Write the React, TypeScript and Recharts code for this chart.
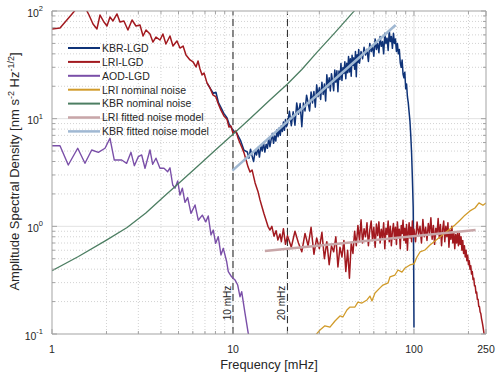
import { LineChart, Line, XAxis, YAxis, CartesianGrid, ReferenceLine } from 'recharts';

// [frequency (mHz), amplitude spectral density (nm s^-2 Hz^-1/2)]
const KBR_LGD: [number, number][] = [
  [7.2, 21.4], [7.5, 19.0], [7.8, 17.2], [8.05, 17.6], [8.3, 14.2], [8.6, 12.6], [8.9, 11.2],
  [9.26, 10.2], [9.5, 9.0], [9.74, 8.4], [10, 7.8], [10.5, 7.3], [11, 6.3], [11.5, 5.1],
  [12, 4.9], [12.25, 4.3], [12.5, 5.2], [12.75, 4.5], [13, 4.0], [13.25, 5.0], [13.5, 4.6],
  [13.75, 5.4], [14, 4.4], [14.25, 5.6], [14.5, 5.0], [14.75, 6.0], [15, 4.9], [15.25, 5.8],
  [15.5, 5.3], [15.75, 6.6], [16, 5.5], [16.25, 6.4], [16.5, 7.3], [16.75, 5.9], [17, 6.9],
  [17.25, 6.2], [17.5, 7.9], [17.75, 6.8], [18, 8.2], [18.25, 7.0], [18.5, 8.6], [18.75, 7.6],
  [19, 9.3], [19.25, 7.8], [19.5, 9.8], [19.75, 8.4], [20, 8.9], [20.5, 11.7], [21, 8.6],
  [21.5, 11.6], [22, 8.7], [22.5, 14.0], [23, 11.0], [23.5, 13.8], [24, 8.4], [24.5, 14.0],
  [25, 11.8], [25.5, 16.5], [26, 14.0], [26.5, 11.8], [27, 17.7], [27.5, 14.0], [28, 17.9],
  [28.5, 12.8], [29, 20.6], [29.5, 16.0], [30, 19.4], [30.5, 15.1], [31, 21.8], [31.5, 16.8],
  [32, 21.0], [32.5, 14.6], [33, 25.6], [33.5, 19.4], [34, 24.0], [34.5, 18.1], [35, 26.2],
  [35.5, 22.3], [36, 18.2], [36.5, 28.3], [37, 21.8], [37.5, 27.8], [38, 17.8], [38.5, 27.7],
  [39, 23.1], [39.5, 32.6], [40, 22.6], [40.5, 29.8], [41, 26.3], [41.5, 33.8], [42, 23.5],
  [42.5, 32.7], [43, 26.7], [43.5, 37.8], [44, 27.1], [44.5, 36.0], [45, 24.8], [45.5, 38.8],
  [46, 31.2], [46.5, 36.7], [47, 28.8], [47.5, 42.1], [48, 24.5], [48.5, 39.2], [49, 33.2],
  [49.5, 44.0], [50, 32.7], [51, 42], [52, 36], [53, 46], [54, 39], [55, 44], [56, 34],
  [57, 50], [58, 42], [59, 47], [60, 38], [61, 55], [62, 44], [63, 50], [64, 41], [65, 58],
  [66, 47], [67, 52], [68, 40], [69, 62], [70, 50], [71, 56], [72, 43], [73, 66], [74, 52],
  [75, 58], [76, 45], [77, 62], [78, 50], [79, 55], [80, 42], [81, 50], [82, 40], [83, 44],
  [84, 33], [85, 30], [86, 35], [87, 26], [88, 24], [89, 27], [90, 19], [91, 21], [92, 16],
  [93, 14], [94, 11.5], [95, 9.5], [96, 7.0], [97, 4.8], [98, 2.8], [99, 1.5], [99.5, 0.6],
  [100, 0.115],
];

const LRI_LGD: [number, number][] = [
  [1, 68.1], [1.107, 69.5], [1.195, 80.8], [1.29, 93.8], [1.374, 106.6], [1.465, 113.7],
  [1.541, 104], [1.601, 91.8], [1.685, 75.8], [1.772, 68.1], [1.842, 91.8], [1.937, 79.0],
  [2.013, 72.6], [2.091, 88.0], [2.173, 80.8], [2.286, 93.8], [2.375, 79.0], [2.497, 80.8],
  [2.627, 66.6], [2.769, 82.5], [2.91, 72.6], [3.063, 74.1], [3.185, 58.6], [3.307, 66.6],
  [3.478, 61.1], [3.61, 51.5], [3.754, 57.3], [3.95, 53.8], [4.1, 61.1], [4.26, 49.4],
  [4.486, 58.6], [4.66, 47.3], [4.9, 52.7], [5.094, 45.3], [5.3, 47.3], [5.5, 39.0],
  [5.787, 35.1], [6.02, 33.6], [6.25, 30.2], [6.41, 34.3], [6.572, 28.9], [6.75, 25.5],
  [6.92, 26.6], [7.19, 21.4], [7.464, 19.3], [7.75, 16.6], [8.05, 15.9], [8.26, 14.0],
  [8.58, 12.0], [8.91, 10.6], [9.26, 9.9], [9.5, 8.37], [9.74, 8.55], [10, 7.36],
  [10.4, 7.7], [10.66, 6.62], [10.93, 5.94], [11.22, 5.36], [11.51, 4.81], [11.81, 4.13],
  [12.12, 3.55], [12.42, 3.19], [12.75, 3.34], [13.25, 2.53], [13.77, 2.08], [14.1, 1.76],
  [14.47, 1.51], [14.85, 1.30], [15.23, 1.14], [15.6, 1.0], [16.01, 0.924], [16.4, 1.0],
  [16.85, 0.81], [17.3, 0.91], [17.7, 0.746], [18.18, 0.85], [18.5, 0.72], [19, 0.95],
  [19.5, 0.68], [20, 0.82], [21, 0.64], [22, 0.90], [23, 0.70], [24, 0.58], [25, 0.86],
  [26, 0.66], [27, 0.98], [28, 0.55], [29, 0.78], [30, 0.62], [31, 0.88], [32, 0.50],
  [33, 0.72], [34, 0.44], [35, 0.66], [36, 0.58], [37, 0.80], [38, 0.42], [39, 0.64],
  [40, 0.52], [41, 0.74], [42, 0.38], [43, 0.60], [44, 0.33], [45, 0.70], [46, 0.56],
  [47, 0.90], [48, 0.66], [49, 1.02], [50, 0.74], [51, 1.15], [52, 0.70], [53, 0.95],
  [54, 0.80], [55, 1.08], [56, 0.66], [57, 0.92], [58, 1.12], [59, 0.74], [60, 0.98],
  [61, 0.64], [62, 1.05], [63, 0.82], [64, 1.10], [65, 0.70], [66, 0.94], [67, 0.78],
  [68, 1.08], [69, 0.62], [70, 0.96], [71, 0.84], [72, 1.12], [73, 0.72], [74, 1.00],
  [75, 0.66], [76, 0.90], [77, 1.06], [78, 0.76], [79, 0.98], [80, 0.68], [81, 1.10],
  [82, 0.80], [83, 0.94], [84, 0.62], [85, 1.02], [86, 0.86], [87, 1.14], [88, 0.74],
  [89, 0.96], [90, 0.70], [91, 1.04], [92, 0.60], [93, 0.88], [94, 1.08], [95, 0.78],
  [96, 0.98], [97, 0.72], [98, 1.12], [99, 0.82], [100, 0.94], [102, 0.72], [104, 1.10],
  [106, 0.84], [108, 1.00], [110, 0.70], [112, 1.16], [114, 0.80], [116, 0.98], [118, 0.74],
  [120, 1.06], [122, 0.86], [124, 1.20], [126, 0.76], [128, 1.02], [130, 0.68], [132, 0.96],
  [134, 0.84], [136, 1.18], [138, 0.78], [140, 1.04], [142, 0.66], [144, 0.94], [146, 1.12],
  [148, 0.72], [150, 1.00], [152, 0.80], [154, 1.08], [156, 0.64], [158, 0.92], [160, 0.76],
  [162, 1.00], [164, 0.70], [166, 0.88], [168, 0.62], [170, 0.84], [172, 0.70], [174, 0.86],
  [176, 0.66], [178, 0.86], [180, 0.68], [182, 0.80], [184, 0.60], [186, 0.74], [188, 0.56],
  [190, 0.66], [192, 0.52], [194, 0.60], [196, 0.48], [198, 0.54], [200, 0.44], [202, 0.48],
  [204, 0.40], [206, 0.43], [208, 0.36], [210, 0.38], [212, 0.32], [214, 0.33], [216, 0.28],
  [218, 0.28], [220, 0.24], [222, 0.245], [224, 0.21], [226, 0.21], [228, 0.18], [230, 0.18],
  [232, 0.16], [234, 0.155], [236, 0.14], [238, 0.13], [240, 0.12], [242, 0.11], [244, 0.1],
  [246, 0.092], [248, 0.085],
];

const AOD_LGD: [number, number][] = [
  [1, 5.61], [1.107, 5.61], [1.23, 3.71], [1.387, 5.31], [1.521, 3.85], [1.657, 5.12],
  [1.803, 4.87], [1.963, 5.31], [2.091, 6.57], [2.209, 4.13], [2.427, 4.13], [2.586, 3.85],
  [2.732, 4.87], [2.85, 3.66], [3.0, 4.44], [3.13, 4.60], [3.265, 3.46], [3.478, 5.12],
  [3.6, 3.77], [3.754, 4.29], [3.95, 3.46], [4.157, 3.46], [4.357, 3.22], [4.486, 3.50],
  [4.645, 2.42], [4.78, 2.26], [4.95, 2.64], [5.094, 1.95], [5.25, 2.26], [5.43, 1.67],
  [5.62, 1.85], [5.86, 1.32], [6.17, 1.58], [6.43, 1.14], [6.77, 1.27], [7.07, 1.10],
  [7.30, 1.25], [7.56, 0.831], [7.78, 0.924], [8.02, 0.696], [8.29, 0.801], [8.58, 0.542],
  [8.84, 0.625], [9.23, 0.469], [9.42, 0.379], [9.83, 0.340], [10.26, 0.318], [10.62, 0.285],
  [10.93, 0.222], [11.17, 0.247], [11.65, 0.156], [12.15, 0.101], [12.42, 0.09],
];

const LRI_NOMINAL: [number, number][] = [
  [28.5, 0.097], [30.25, 0.109], [32.2, 0.119], [34.35, 0.116], [36.6, 0.132], [39.0, 0.147],
  [40.5, 0.144], [42.6, 0.167], [44.3, 0.178], [47.2, 0.178], [49.0, 0.198], [51.6, 0.194],
  [55.0, 0.207], [57.1, 0.225], [58.6, 0.203], [60.9, 0.240], [64.9, 0.268], [67.4, 0.285],
  [71.9, 0.298], [73.7, 0.339], [78.5, 0.353], [81.6, 0.393], [85.8, 0.376], [89.2, 0.410],
  [95.0, 0.438], [100, 0.448], [103.9, 0.519], [108, 0.578], [115, 0.603], [122.6, 0.672],
  [130.6, 0.731], [139.2, 0.796], [148.3, 0.867], [158.1, 0.945], [168.4, 1.03], [179.5, 1.14],
  [191.3, 1.27], [203.9, 1.39], [217.3, 1.48], [228.6, 1.65], [240.5, 1.57], [250, 1.65],
];

const KBR_NOMINAL: [number, number][] = [
  [1, 0.387], [1.4, 0.525], [2, 0.745], [2.6, 0.975], [3.3, 1.33], [4.2, 1.92], [5.2, 2.65],
  [6.4, 3.64], [8, 5.11], [10, 7.18], [12.4, 10.0], [16, 14.9], [20, 21.0], [24, 28.6],
  [29, 41.0], [36.6, 63], [46, 97], [52, 122],
];

const LRI_FIT: [number, number][] = [[15.0, 0.59], [219, 0.925]];
const KBR_FIT: [number, number][] = [[9.92, 3.29], [79.2, 74.1]];

const X_MAJOR = [1, 10, 100, 250];
const X_MINOR = [2, 3, 4, 5, 6, 7, 8, 9, 20, 30, 40, 50, 60, 70, 80, 90, 200];
const Y_MAJOR = [0.1, 1, 10, 100];
const Y_MINOR = [0.2, 0.3, 0.4, 0.5, 0.6, 0.7, 0.8, 0.9, 2, 3, 4, 5, 6, 7, 8, 9, 20, 30, 40, 50, 60, 70, 80, 90];
const Y_EXP: Record<string, string> = { '0.1': '-1', '1': '0', '10': '1', '100': '2' };
const MARKERS = [10, 20];

const FONT = '"Liberation Sans", Arial, Helvetica, sans-serif';
const AXIS = '#a3a3a3';
const TEXT = '#262626';

const SERIES = [
  { name: 'KBR-LGD', data: KBR_LGD, color: '#0f3378', width: 1.5, legendWidth: 2 },
  { name: 'LRI-LGD', data: LRI_LGD, color: '#a2191f', width: 1.5, legendWidth: 2 },
  { name: 'AOD-LGD', data: AOD_LGD, color: '#7a4fa8', width: 1.4, legendWidth: 2 },
  { name: 'LRI nominal noise', data: LRI_NOMINAL, color: '#d19b2a', width: 1.3, legendWidth: 2 },
  { name: 'KBR nominal noise', data: KBR_NOMINAL, color: '#4c7e62', width: 1.3, legendWidth: 2 },
  { name: 'LRI fitted noise model', data: LRI_FIT, color: '#c8a6a8', width: 2.6, legendWidth: 2.5 },
  { name: 'KBR fitted noise model', data: KBR_FIT, color: '#a0b8d2', width: 2.6, legendWidth: 2.5 },
];

const toRows = (d: [number, number][]) => d.map(([f, v]) => ({ f, v }));

function XTick(props: any) {
  const { x, y, payload, top } = props;
  const major = X_MAJOR.includes(payload.value);
  const len = major ? 5 : 3;
  const dir = top ? 1 : -1;
  return (
    <g>
      <line x1={x} x2={x} y1={y} y2={y + dir * len} stroke={AXIS} />
      {major && !top && (
        <text x={x} y={y + 19} textAnchor="middle" fontSize={10.5} fill={TEXT} fontFamily={FONT}>
          {payload.value}
        </text>
      )}
    </g>
  );
}

function YTick(props: any) {
  const { x, y, payload, right } = props;
  const major = Y_MAJOR.includes(payload.value);
  const len = major ? 5 : 3;
  const dir = right ? -1 : 1;
  return (
    <g>
      <line x1={x} x2={x + dir * len} y1={y} y2={y} stroke={AXIS} />
      {major && !right && (
        <text x={x - 9} y={y + 5.5} textAnchor="end" fontSize={10.5} fill={TEXT} fontFamily={FONT}>
          <tspan>10</tspan>
          <tspan dy={-5.5} fontSize={7.5}>{Y_EXP[String(payload.value)]}</tspan>
        </text>
      )}
    </g>
  );
}

function MarkerLabel(props: any) {
  const { viewBox, text } = props;
  const cx = viewBox.x - 2;
  const cy = viewBox.y + viewBox.height - 31;
  return (
    <text
      transform={`translate(${cx}, ${cy}) rotate(-90)`}
      textAnchor="middle"
      fontSize={10}
      fill={TEXT}
      fontFamily={FONT}
    >
      {text}
    </text>
  );
}

export default function App() {
  const xTicks = [...X_MAJOR, ...X_MINOR].sort((a, b) => a - b);
  const yTicks = [...Y_MAJOR, ...Y_MINOR].sort((a, b) => a - b);
  return (
    <div style={{ position: 'absolute', left: 0, top: 0, width: 500, height: 377, background: '#fff' }}>
      <LineChart width={500} height={377} margin={{ top: 10, right: 13, bottom: 13, left: 12 }}>
        <CartesianGrid
          horizontalValues={Y_MINOR}
          verticalValues={X_MINOR}
          stroke="#d2d2d2"
          strokeDasharray="1 2"
        />
        <CartesianGrid horizontalValues={[1, 10]} verticalValues={[10, 100]} stroke="#e2e2e2" />
        <XAxis
          dataKey="f"
          type="number"
          scale="log"
          domain={[1, 250]}
          allowDataOverflow
          ticks={xTicks}
          interval={0}
          tickSize={0}
          tickMargin={0}
          height={30}
          axisLine={{ stroke: AXIS }}
          tick={(p: any) => <XTick {...p} />}
        />
        <XAxis
          xAxisId="top"
          orientation="top"
          dataKey="f"
          type="number"
          scale="log"
          domain={[1, 250]}
          allowDataOverflow
          ticks={xTicks}
          interval={0}
          tickSize={0}
          tickMargin={0}
          height={1}
          axisLine={{ stroke: AXIS }}
          tick={(p: any) => <XTick {...p} top />}
        />
        <YAxis
          type="number"
          scale="log"
          domain={[0.1, 100]}
          allowDataOverflow
          ticks={yTicks}
          interval={0}
          tickSize={0}
          tickMargin={0}
          width={40}
          axisLine={{ stroke: AXIS }}
          tick={(p: any) => <YTick {...p} />}
        />
        <YAxis
          yAxisId="right"
          orientation="right"
          type="number"
          scale="log"
          domain={[0.1, 100]}
          allowDataOverflow
          ticks={yTicks}
          interval={0}
          tickSize={0}
          tickMargin={0}
          width={1}
          axisLine={{ stroke: AXIS }}
          tick={(p: any) => <YTick {...p} right />}
        />
        {MARKERS.map((m) => (
          <ReferenceLine
            key={m}
            x={m}
            stroke="#333"
            strokeWidth={1.1}
            strokeDasharray="7 4"
            label={(p: any) => <MarkerLabel {...p} text={`${m} mHz`} />}
          />
        ))}
        {SERIES.map((s) => (
          <Line
            key={s.name}
            data={toRows(s.data)}
            dataKey="v"
            type="linear"
            stroke={s.color}
            strokeWidth={s.width}
            strokeLinejoin="round"
            dot={false}
            activeDot={false}
            isAnimationActive={false}
          />
        ))}
      </LineChart>
      <svg
        width={500}
        height={377}
        style={{ position: 'absolute', left: 0, top: 0, pointerEvents: 'none' }}
        fontFamily={FONT}
      >
        {SERIES.map((s, i) => (
          <g key={s.name}>
            <line x1={68} x2={100} y1={48 + i * 13.9} y2={48 + i * 13.9} stroke={s.color} strokeWidth={s.legendWidth} />
            <text x={102} y={48 + i * 13.9 + 3.8} fontSize={10.5} fill={TEXT}>
              {s.name}
            </text>
          </g>
        ))}
        <text x={269} y={369} textAnchor="middle" fontSize={12.8} fill={TEXT}>
          Frequency [mHz]
        </text>
        <text transform="translate(18.5, 171.5) rotate(-90)" textAnchor="middle" fontSize={13} fill={TEXT}>
          <tspan>Amplitude Spectral Density [nm s</tspan>
          <tspan dy={-5} fontSize={9}>-2</tspan>
          <tspan dy={5}> Hz</tspan>
          <tspan dy={-5} fontSize={9}>-1/2</tspan>
          <tspan dy={5}>]</tspan>
        </text>
      </svg>
    </div>
  );
}
